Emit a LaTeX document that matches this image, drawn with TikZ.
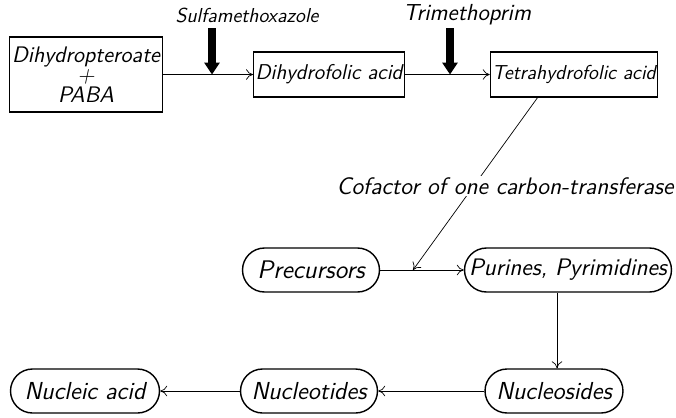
\documentclass[tikz,border=0pt]{standalone}
\usepackage{tikz}
\usetikzlibrary{arrows.meta}
\tikzset{
  lbl/.style={font=\fontsize{#1}{#1}\sffamily\itshape},
  lbl/.default=11.5,
  sqbox/.style={lbl=#1, draw, thick, inner sep=1pt, minimum height=0.9cm},
  sqbox/.default=12,
  pill/.style={lbl=#1, draw, thick, rounded corners=0.44cm, inner sep=1pt, minimum height=0.88cm},
  pill/.default=14,
  flow/.style={->, thin, >={To[length=4pt,width=6pt]}},
  block/.style={line width=4.2pt, -{Triangle[width=0.3cm,length=0.24cm]}}
}
\begin{document}
\begin{tikzpicture}[x=0.02cm, y=-0.02cm]
\useasboundingbox (0,0) rectangle (676,417);
% top row
\node[sqbox=12.8, minimum width=3.06cm, minimum height=1.5cm, align=center] (dhp) at (86,74.5)
  {Dihydropteroate\\[-1.5pt]+\\[-1.5pt]PABA};
\node[sqbox=12.2, minimum width=3cm] (dhf) at (329,74.5) {Dihydrofolic acid};
\node[sqbox=11.5, minimum width=3.12cm] (thf) at (574,74.5) {Tetrahydrofolic acid};
\draw[flow] (dhp) -- (dhf);
\draw[flow] (dhf) -- (thf);
% inhibitors
\node[lbl=11.5] (sulfa) at (247,15) {Sulfamethoxazole};
\node[lbl=13.2] (tmp) at (467,15) {Trimethoprim};
\coordinate (s1) at (212,28);
\coordinate (t1) at (450,28);
\draw[block] (s1) -- (s1 |- dhf);
\draw[block] (t1) -- (t1 |- dhf);
% middle row
\node[pill=14.5, minimum width=2.74cm] (pre) at (311,270) {Precursors};
\node[pill=13.6, minimum width=4.14cm] (pur) at (568,270) {Purines, Pyrimidines};
\draw[flow] (pre) -- (pur);
\coordinate (hit) at (413,270);
\coordinate (c0) at (538,97);
\draw[flow] (c0) -- (hit);
\node[lbl=13.6, fill=white, inner sep=1pt] (cof) at (505,186) {Cofactor of one carbon-transferase};
% bottom row
\node[pill, minimum width=2.98cm] (na) at (85,391) {Nucleic acid};
\node[pill, minimum width=2.74cm] (nt) at (309,391) {Nucleotides};
\node[pill, minimum width=2.76cm] (ns) at (554,391) {Nucleosides};
\coordinate (p0) at (557,293);
\draw[flow] (p0) -- (p0 |- ns.north);
\draw[flow] (ns) -- (nt);
\draw[flow] (nt) -- (na);
\end{tikzpicture}
\end{document}
